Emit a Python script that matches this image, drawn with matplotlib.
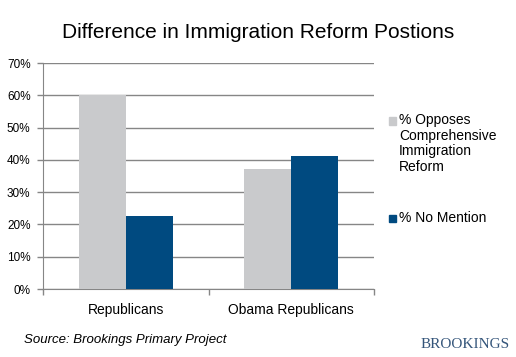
import matplotlib
matplotlib.use("Agg")
import matplotlib.pyplot as plt
from matplotlib.patches import Rectangle
import numpy as np

categories = ["Republicans", "Obama Republicans"]
series_names = ["% Opposes\nComprehensive\nImmigration\nReform", "% No Mention"]
opposes = [60.0, 37.2]
no_mention = [22.7, 41.2]
yticks = [0, 10, 20, 30, 40, 50, 60, 70]
ytick_labels = ["0%", "10%", "20%", "30%", "40%", "50%", "60%", "70%"]
title = "Difference in Immigration Reform Postions"
source = "Source: Brookings Primary Project"
brand = "BROOKINGS"

plt.rcParams['font.family'] = ['Liberation Sans', 'DejaVu Sans']

W, H = 516, 357
fig = plt.figure(figsize=(W / 100, H / 100), dpi=100)
ax = fig.add_axes([43 / W, 1 - 289 / H, (374 - 43) / W, (289 - 63) / H])

x = np.arange(len(categories))
bw = 0.285
c_gray = "#c9cacc"
c_blue = "#004a80"
ax.bar(x - bw / 2, opposes, width=bw, color=c_gray, zorder=3)
ax.bar(x + bw / 2, no_mention, width=bw, color=c_blue, zorder=3)

ax.set_xlim(-0.5, len(categories) - 0.5)
ax.set_ylim(0, 70)
ax.set_yticks(yticks)
ax.set_yticklabels(ytick_labels, fontsize=8.5)
ax.yaxis.grid(True, color="#868686", linewidth=1.0, zorder=0)
ax.set_xticks(x)
ax.set_xticklabels(categories, fontsize=10)
ax.set_xticks(np.arange(len(categories) + 1) - 0.5, minor=True)
ax.tick_params(axis="x", which="major", length=0, pad=10)
ax.tick_params(axis="x", which="minor", length=4, color="#868686", width=1)
ax.tick_params(axis="y", length=4, color="#868686", width=1, pad=5)
for s in ["top", "right"]:
    ax.spines[s].set_visible(False)
ax.spines["left"].set_color("#868686")
ax.spines["bottom"].set_color("#868686")

# legend
sq = 7
fig.patches.append(Rectangle((389 / W, 1 - (121 + sq / 2) / H), sq / W, sq / H,
                             transform=fig.transFigure, color=c_gray, figure=fig))
fig.text(399 / W, 1 - 113 / H, series_names[0], fontsize=10, va="top", ha="left",
         linespacing=1.15)
fig.patches.append(Rectangle((389 / W, 1 - (218 + sq / 2) / H), sq / W, sq / H,
                             transform=fig.transFigure, color=c_blue, figure=fig))
fig.text(399 / W, 1 - 218 / H, series_names[1], fontsize=10, va="center", ha="left")

fig.text(258 / W, 1 - 32 / H, title, fontsize=15, ha="center", va="center")
fig.text(24 / W, 1 - 340 / H, source, fontsize=9.5, style="italic", ha="left", va="center")
fig.text(510 / W, 1 - 345 / H, brand, fontsize=11, family="Liberation Serif",
         color="#34557a", ha="right", va="center")

fig.savefig("out.png", dpi=100)
